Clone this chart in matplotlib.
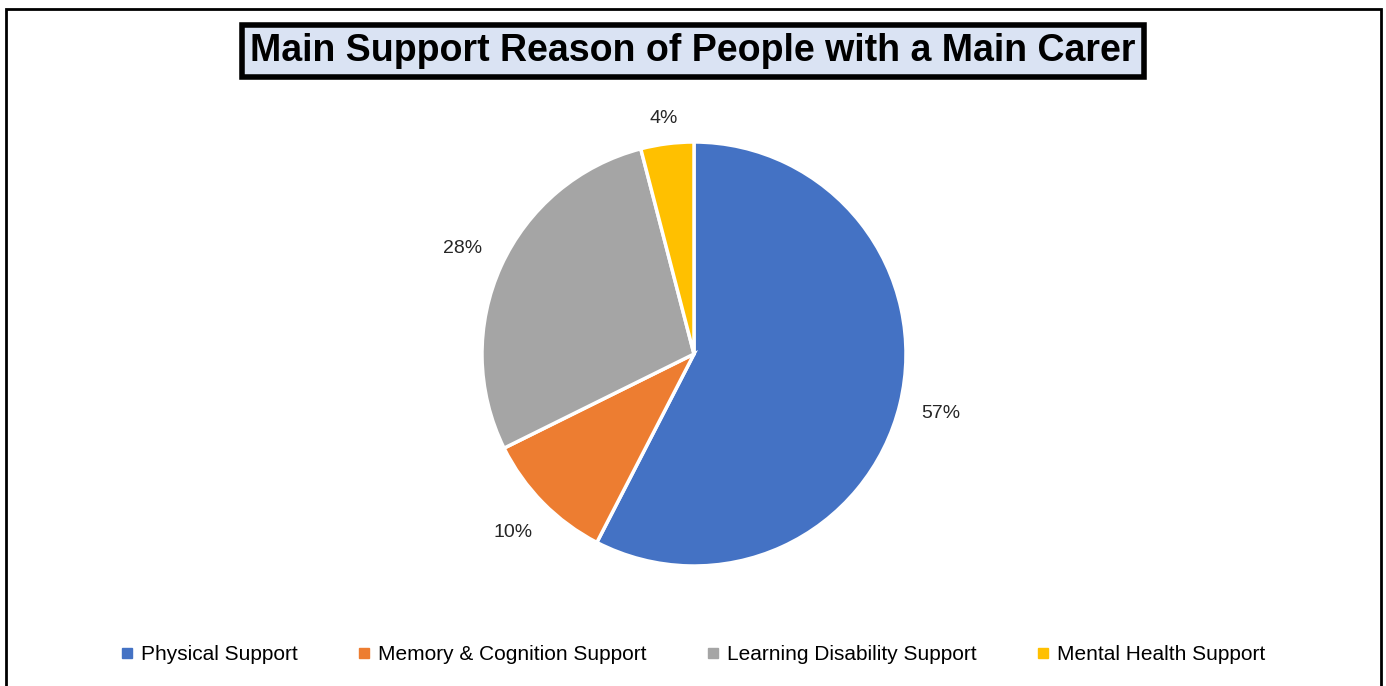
import matplotlib
matplotlib.use("Agg")
import numpy as np
from matplotlib import pyplot as plt
from matplotlib.patches import Rectangle
from matplotlib.lines import Line2D

categories = ["Physical Support", "Memory & Cognition Support",
              "Learning Disability Support", "Mental Health Support"]
shares = [57, 10, 28, 4]
colors = ["#4472C4", "#ED7D31", "#A5A5A5", "#FFC000"]

W, H = 1386, 686
fig = plt.figure(figsize=(W / 100, H / 100), dpi=100)

# outer frame (open at the bottom)
fig.patches.append(Rectangle((6 / W, -0.05), (1381 - 6) / W, 1.05 - 9 / H,
                             transform=fig.transFigure, fill=False,
                             edgecolor="black", linewidth=2))

# pie axes: centre (694, 354) px, radius 212 px
lim = 1.3
side = 2 * 212 * lim
cx, cy = 694, H - 354
ax = fig.add_axes([(cx - side / 2) / W, (cy - side / 2) / H, side / W, side / H])
wedges, texts = ax.pie(shares, colors=colors, startangle=90, counterclock=False,
                       labels=[f"{v}%" for v in shares], labeldistance=1.2,
                       wedgeprops=dict(edgecolor="white", linewidth=2.5),
                       textprops=dict(fontsize=14, family="Liberation Sans",
                                      color="#262626"))
for t in texts:
    t.set_ha("center")
    t.set_va("center")
# the small slice label sits a little closer to the rim
w = wedges[3]
mid = np.deg2rad((w.theta1 + w.theta2) / 2)
texts[3].set_position((1.12 * np.cos(mid), 1.12 * np.sin(mid)))
ax.set_xlim(-lim, lim)
ax.set_ylim(-lim, lim)
ax.set_aspect("equal")
ax.axis("off")

fig.text(693 / W, 1 - 51 / H, "Main Support Reason of People with a Main Carer",
         ha="center", va="center", fontsize=27, fontweight="bold",
         family="Liberation Sans",
         bbox=dict(boxstyle="square,pad=0.22", facecolor="#DAE3F3",
                   edgecolor="black", linewidth=4))

handles = [Line2D([], [], linestyle="none", marker="s", markersize=7,
                  markerfacecolor=c, markeredgecolor=c) for c in colors]
fig.legend(handles, categories, loc="center", bbox_to_anchor=(0.5, 1 - 655 / H),
           ncol=4, frameon=False, handlelength=0.6, handletextpad=0.35,
           columnspacing=2.9, prop=dict(family="Liberation Sans", size=15))

fig.savefig("out.png", dpi=100)
